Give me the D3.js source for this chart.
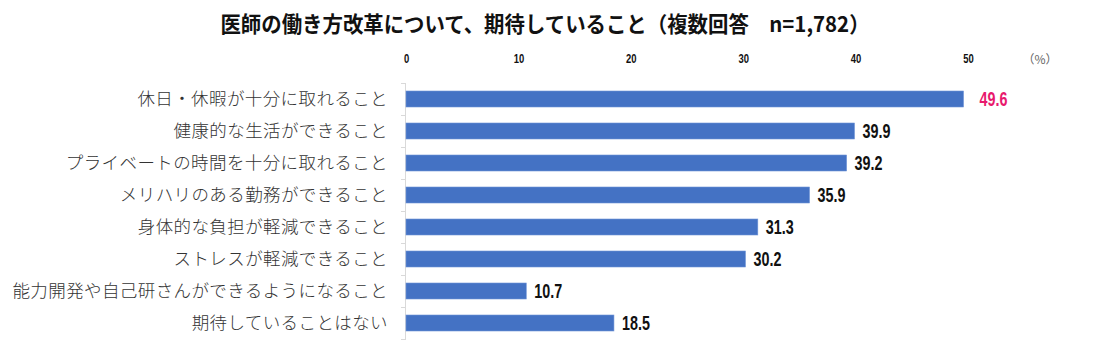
<!DOCTYPE html>
<html>
<head>
<meta charset="utf-8">
<script src="https://cdn.jsdelivr.net/npm/d3@7"></script>
<style>
  body { margin: 0; background: #fff; }
  svg { display: block; }
</style>
</head>
<body>
<svg width="1100" height="352"></svg>
<script>
const categories = [
  "休日・休暇が十分に取れること",
  "健康的な生活ができること",
  "プライベートの時間を十分に取れること",
  "メリハリのある勤務ができること",
  "身体的な負担が軽減できること",
  "ストレスが軽減できること",
  "能力開発や自己研さんができるようになること",
  "期待していることはない"
];
const values = [49.6, 39.9, 39.2, 35.9, 31.3, 30.2, 10.7, 18.5];
const tickValues = [0, 10, 20, 30, 40, 50];
const title = "医師の働き方改革について、期待していること（複数回答　n=1,782）";

const svg = d3.select("svg");
const margin = { top: 83, left: 406 };
const rowH = 32;

const x = d3.scaleLinear().domain([0, 50]).range([margin.left, 968]);
const y = d3.scaleBand()
  .domain(categories)
  .range([margin.top, margin.top + rowH * categories.length])
  .paddingInner(0.5)
  .paddingOuter(0.25);

const numFont = "'Liberation Sans', Arial, sans-serif";
const jp = "'Noto Sans CJK JP', 'Noto Sans', sans-serif";
const squeeze = 0.7; // narrow the digits, like a condensed face

// title
svg.append("g")
  .attr("transform", "translate(545,32) scale(0.95,1)")
  .append("text")
  .attr("text-anchor", "middle")
  .attr("font-family", jp)
  .attr("font-weight", "bold")
  .attr("font-size", 21.5)
  .attr("fill", "#111")
  .text(title);

// top axis
const xAxis = svg.append("g")
  .attr("transform", "translate(0,63)")
  .call(d3.axisTop(x).tickValues(tickValues).tickSize(0).tickPadding(0));
xAxis.select(".domain").remove();
xAxis.selectAll(".tick text")
  .attr("transform", `scale(${squeeze},1)`)
  .attr("font-family", numFont)
  .attr("font-weight", "bold")
  .attr("font-size", 13.5)
  .attr("fill", "#111");

svg.append("text")
  .attr("x", 1040)
  .attr("y", 64)
  .attr("text-anchor", "middle")
  .attr("font-family", jp)
  .attr("font-size", 12)
  .attr("fill", "#666")
  .text("（%）");

// vertical axis line with small ticks between rows
const yLine = svg.append("g").attr("stroke", "#d9d9d9").attr("stroke-width", 1);
yLine.append("line")
  .attr("x1", x(0) - 0.5).attr("x2", x(0) - 0.5)
  .attr("y1", margin.top).attr("y2", margin.top + rowH * categories.length);
yLine.selectAll("line.tick")
  .data(d3.range(categories.length + 1))
  .join("line")
  .attr("class", "tick")
  .attr("x1", x(0) - 5).attr("x2", x(0))
  .attr("y1", i => margin.top + i * rowH + 0.5)
  .attr("y2", i => margin.top + i * rowH + 0.5);

// bars
svg.append("g")
  .selectAll("rect")
  .data(values)
  .join("rect")
  .attr("x", x(0))
  .attr("y", (d, i) => y(categories[i]))
  .attr("width", d => x(d) - x(0))
  .attr("height", y.bandwidth())
  .attr("fill", "#4472c4")
  .attr("stroke", "#6f93d6")
  .attr("stroke-width", 0.6);

// category labels
svg.append("g")
  .selectAll("text")
  .data(categories)
  .join("text")
  .attr("x", 388)
  .attr("y", d => y(d) + y.bandwidth() / 2)
  .attr("dy", "0.36em")
  .attr("text-anchor", "end")
  .attr("font-family", jp)
  .attr("font-weight", 300)
  .attr("font-size", 17.5)
  .attr("letter-spacing", 0.4)
  .attr("fill", "#333")
  .text(d => d);

// value labels (the highlighted top value sits a little further out)
svg.append("g")
  .selectAll("g")
  .data(values)
  .join("g")
  .attr("transform", (d, i) =>
    `translate(${x(d) + (i === 0 ? 16 : 8)},${y(categories[i]) + y.bandwidth() / 2}) scale(${squeeze},1)`)
  .append("text")
  .attr("dy", "0.36em")
  .attr("font-family", numFont)
  .attr("font-weight", "bold")
  .attr("font-size", 20.5)
  .attr("fill", (d, i) => i === 0 ? "#e8196d" : "#111")
  .text(d => d.toFixed(1));
</script>
</body>
</html>
